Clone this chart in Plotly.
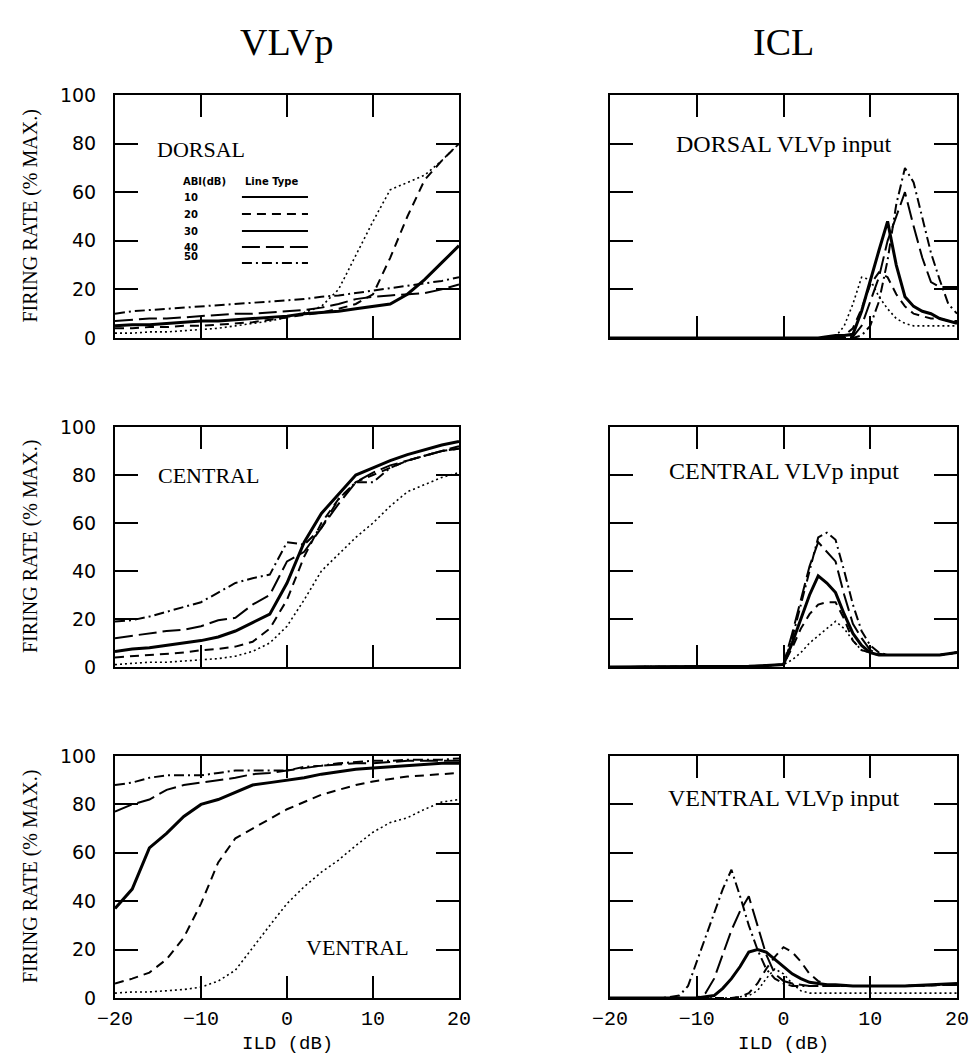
import plotly.graph_objects as go

# ---------------- data ----------------
ABI_LEVELS = [10, 20, 30, 40, 50]

VLVP_X = [-20, -18, -16, -14, -12, -10, -8, -6, -4, -2, 0, 2, 4, 6, 8, 10, 12, 14, 16, 18, 20]

VLVP_DORSAL = {
    10: [2, 2, 2.5, 2.5, 3, 3.5, 4, 5, 6, 7, 8.5, 10.5, 13, 20, 34, 48, 61, 64, 67, 73, 80],
    20: [4, 4, 4.5, 4.5, 5, 5, 5.5, 6, 6.5, 7.5, 8.5, 9.5, 10.5, 12, 14, 18, 33, 50, 65, 73, 80],
    30: [5, 5.5, 5.5, 6, 6.5, 7, 7, 7.5, 8, 8.5, 9, 10, 10.5, 11, 12, 13, 14, 18, 24, 31, 38],
    40: [7, 7.5, 8, 8, 8.5, 9, 9.5, 10, 10, 10.5, 11, 11.5, 12.5, 14, 16, 17, 17.5, 18, 18.5, 20, 22],
    50: [10, 11, 11.5, 12, 12.5, 13, 13.5, 14, 14.5, 15, 15.5, 16, 17, 17.5, 18.5, 19.5, 20.5, 21.5, 22.5, 23.5, 25],
}
VLVP_CENTRAL = {
    10: [1, 1.5, 2, 2, 2.5, 3, 3.5, 4.5, 6.5, 10, 17, 28, 40, 47, 54, 60, 67, 73, 76, 79, 81],
    20: [4, 4.5, 5, 5.5, 6, 7, 7.5, 8.5, 10.5, 16, 28, 46, 60, 70, 77, 80, 83, 86, 88, 90, 91],
    30: [6.5, 7.5, 8, 9, 10, 11, 12.5, 15, 18.5, 22, 35, 52, 64, 72, 80, 83, 86, 88.5, 90.5, 92.5, 94],
    40: [12, 13, 14, 15, 15.5, 17, 19.5, 20.5, 26, 30, 44, 48, 58, 68, 77, 81, 84, 86, 88, 90, 92],
    50: [19, 19.5, 21, 23, 25, 27, 31, 35, 37, 38.5, 52, 51, 58, 70, 77, 77, 83, 86, 88, 90, 91],
}
VLVP_VENTRAL = {
    10: [2, 2.5, 2.5, 3, 3.5, 4.5, 7, 11.5, 21, 30, 39, 46, 52, 57, 63, 68.5, 72.5, 74.5, 78, 81, 82],
    20: [6, 8, 10.5, 16, 25, 39, 56, 66, 70, 74, 78, 81, 84, 86, 88, 89.5, 90.5, 91.5, 92, 92.5, 93],
    30: [37, 45, 62, 68, 75, 80, 82, 85, 88, 89, 90, 91, 92.5, 93.5, 94.5, 95, 95.5, 96, 96.5, 97, 97],
    40: [77, 80, 82, 86, 88, 89, 90, 91, 92.5, 93, 94, 95, 96, 96.5, 97, 97, 97.5, 98, 98, 98, 98],
    50: [88, 89, 91, 92, 92, 92, 93, 94, 94, 94, 94, 95.5, 96, 97, 97.5, 98, 98, 98.5, 98.5, 98.5, 99],
}

ICL_DORSAL_X = [-20, 0, 2, 4, 5, 6, 7, 8, 9, 10, 11, 12, 13, 14, 15, 16, 17, 18, 19, 20]
ICL_DORSAL = {
    10: [0, 0, 0, 0, 0, 0.5, 5, 14, 25, 24, 17, 12, 8, 6, 5, 5, 5, 5, 5, 5],
    20: [0, 0, 0, 0, 0, 0, 1, 4, 12, 22, 27, 25, 18, 13, 10, 9, 8, 8, 7, 7],
    30: [0, 0, 0, 0, 0.5, 1, 1, 1.5, 11, 24, 36, 48, 30, 17, 13, 11, 10, 8, 7, 6],
    40: [0, 0, 0, 0, 0, 0, 0, 0.5, 5, 15, 25, 40, 50, 60, 46, 33, 23, 21, 21, 21],
    50: [0, 0, 0, 0, 0, 0, 0, 0, 1, 5, 15, 32, 55, 70, 64, 50, 35, 24, 14, 10],
}
ICL_CENTRAL_X = [-20, -10, -4, -2, 0, 1, 2, 3, 4, 5, 6, 7, 8, 9, 10, 11, 12, 14, 16, 18, 20]
ICL_CENTRAL = {
    10: [0, 0, 0.3, 0.6, 1, 3, 6, 10, 13, 16, 19, 16, 11, 7, 6, 5, 5, 5, 5, 5, 6],
    20: [0, 0, 0.3, 0.6, 1, 8, 16, 22, 26, 27, 27, 20, 11, 7, 6, 5, 5, 5, 5, 5, 6],
    30: [0, 0, 0.3, 0.6, 1, 10, 20, 30, 38, 35, 31, 22, 14, 9, 6, 5, 5, 5, 5, 5, 6],
    40: [0, 0, 0.3, 0.6, 1, 14, 28, 42, 52, 48, 44, 30, 18, 12, 7, 5.5, 5, 5, 5, 5, 6],
    50: [0, 0, 0.3, 0.6, 1, 12, 26, 40, 54, 56, 53, 40, 26, 15, 9, 6, 5, 5, 5, 5, 6],
}
ICL_VENTRAL_X = [-20, -14, -12, -11, -10, -9, -8, -7, -6, -5, -4, -3, -2, -1, 0, 1, 2, 3, 4, 5, 6, 8, 10, 14, 20]
ICL_VENTRAL = {
    10: [0, 0, 0, 0, 0, 0, 0, 0, 0, 0.5, 1, 3, 8, 12, 10, 6, 3, 2, 2, 2, 2, 2, 2, 2, 2],
    20: [0, 0, 0, 0, 0, 0, 0, 0, 0, 0.5, 2, 6, 12, 17, 21, 19, 15, 10, 7, 5.5, 5, 5, 5, 5, 5.5],
    30: [0, 0, 0, 0, 0, 0.5, 1, 4, 8, 13, 19, 20, 19, 16, 13, 10, 8, 6.5, 6, 5.5, 5.5, 5, 5, 5, 6],
    40: [0, 0, 0, 0, 0, 2, 8, 18, 28, 36, 42, 30, 18, 10, 7, 6, 5.5, 5, 5, 5, 5, 5, 5, 5, 5.5],
    50: [0, 0, 1, 5, 15, 25, 35, 45, 53, 42, 30, 20, 12, 8, 6, 5, 5, 5, 5, 5, 5, 5, 5, 5, 5.5],
}

X_TICKS = [-20, -10, 0, 10, 20]
Y_TICKS = [0, 20, 40, 60, 80, 100]
COLUMN_TITLES = ["VLVp", "ICL"]
PANEL_LABELS = ["DORSAL", "DORSAL VLVp input", "CENTRAL", "CENTRAL VLVp input",
                "VENTRAL", "VENTRAL VLVp input"]
Y_TITLE = "FIRING RATE (% MAX.)"
X_TITLE = "ILD (dB)"

# ---------------- styling ----------------
DASH = {10: "2px,3px", 20: "9px,6px", 30: "solid", 40: "18px,6px", 50: "10px,4px,2px,4px"}
WIDTH = {10: 1.6, 20: 2.0, 30: 3.0, 40: 2.0, 50: 2.0}
SERIF = "Liberation Serif"
SANS = "DejaVu Sans"
MONO = "Liberation Mono"

W, H = 975, 1055
X_DOM = [[115 / W, 459 / W], [610 / W, 957 / W]]
Y_DOM = [[1 - 338 / H, 1 - 95 / H], [1 - 667 / H, 1 - 427 / H], [1 - 998 / H, 1 - 756 / H]]

panels = [
    (VLVP_X, VLVP_DORSAL), (ICL_DORSAL_X, ICL_DORSAL),
    (VLVP_X, VLVP_CENTRAL), (ICL_CENTRAL_X, ICL_CENTRAL),
    (VLVP_X, VLVP_VENTRAL), (ICL_VENTRAL_X, ICL_VENTRAL),
]
label_pos = [(0.25, 0.775), (0.5, 0.80), (0.273, 0.80), (0.5, 0.815), (0.706, 0.21), (0.5, 0.825)]

fig = go.Figure()
annotations = []
shapes = []

for i, (xs, series) in enumerate(panels):
    idx = i + 1
    row, col = divmod(i, 2)
    xa = "x" if idx == 1 else f"x{idx}"
    ya = "y" if idx == 1 else f"y{idx}"
    for abi in ABI_LEVELS:
        fig.add_trace(go.Scatter(
            x=xs, y=series[abi], xaxis=xa, yaxis=ya, mode="lines",
            line=dict(color="black", width=WIDTH[abi], dash=DASH[abi]),
            showlegend=False, hoverinfo="skip"))
    bottom = row == 2
    common = dict(showline=True, linecolor="black", linewidth=2, mirror="ticks",
                  ticks="inside", tickcolor="black", tickwidth=2, showgrid=False,
                  zeroline=False, fixedrange=True, automargin=False)
    fig.layout[f"xaxis{idx}"] = dict(
        domain=X_DOM[col], anchor=ya, range=[-20, 20],
        tickvals=X_TICKS, ticklen=22, showticklabels=bottom,
        tickfont=dict(family=MONO, size=20, color="black"), ticklabelstandoff=1, **common)
    fig.layout[f"yaxis{idx}"] = dict(
        domain=Y_DOM[row], anchor=xa, range=[0, 100], tickvals=Y_TICKS, ticklen=23,
        showticklabels=(col == 0), ticklabelstandoff=13,
        tickfont=dict(family=SANS, size=19, color="black"), **common)

    xd, yd = label_pos[i]
    annotations.append(dict(text=PANEL_LABELS[i], xref=f"{xa} domain", yref=f"{ya} domain",
                            x=xd, y=yd, showarrow=False, xanchor="center", yanchor="middle",
                            font=dict(family=SERIF, size=22 if col == 0 else 24, color="black")))
    if col == 0:
        annotations.append(dict(text=Y_TITLE, xref="paper", yref=f"{ya} domain",
                                x=30 / W, y=0.5, textangle=-90, showarrow=False,
                                xanchor="center", yanchor="middle",
                                font=dict(family=SERIF, size=20, color="black")))
    if bottom:
        annotations.append(dict(text=X_TITLE, xref=f"{xa} domain", yref="paper",
                                x=0.5, y=1 - 1044 / H, showarrow=False,
                                xanchor="center", yanchor="middle", borderpad=0,
                                font=dict(family=MONO, size=19, color="black")))

# column titles
for c, t in enumerate(COLUMN_TITLES):
    annotations.append(dict(text=t, xref="paper", yref="paper",
                            x=(X_DOM[c][0] + X_DOM[c][1]) / 2, y=1 - 42 / H, showarrow=False,
                            xanchor="center", yanchor="middle",
                            font=dict(family=SERIF, size=38, color="black")))

# in-plot key of the first panel
key_rows = [0.580, 0.510, 0.440, 0.374, 0.309]
annotations.append(dict(text="<b>ABI(dB)</b>", xref="x domain", yref="y domain", x=0.195, y=0.642,
                        showarrow=False, borderpad=0, font=dict(family=SANS, size=10, color="black")))
annotations.append(dict(text="<b>Line Type</b>", xref="x domain", yref="y domain", x=0.456, y=0.642,
                        showarrow=False, borderpad=0, font=dict(family=SANS, size=10, color="black")))
KEY_DASH = {10: "solid", 20: "9px,6px", 30: "solid", 40: "18px,6px", 50: "10px,4px,2px,4px"}
for abi, yk in zip(ABI_LEVELS, key_rows):
    annotations.append(dict(text=f"<b>{abi}</b>", xref="x domain", yref="y domain", x=0.198, y=yk,
                            showarrow=False, borderpad=0, font=dict(family=SANS, size=10, color="black")))
    shapes.append(dict(type="line", xref="x domain", yref="y domain", x0=0.369, x1=0.561,
                       y0=yk, y1=yk, line=dict(color="black", width=2, dash=KEY_DASH[abi])))

fig.update_layout(width=W, height=H, autosize=False, margin=dict(l=0, r=0, t=0, b=0, pad=0),
                  paper_bgcolor="white", plot_bgcolor="white",
                  annotations=annotations, shapes=shapes, showlegend=False)

fig.write_html("out.html", post_script="document.body.style.margin='0';",
               config={"displayModeBar": False})
